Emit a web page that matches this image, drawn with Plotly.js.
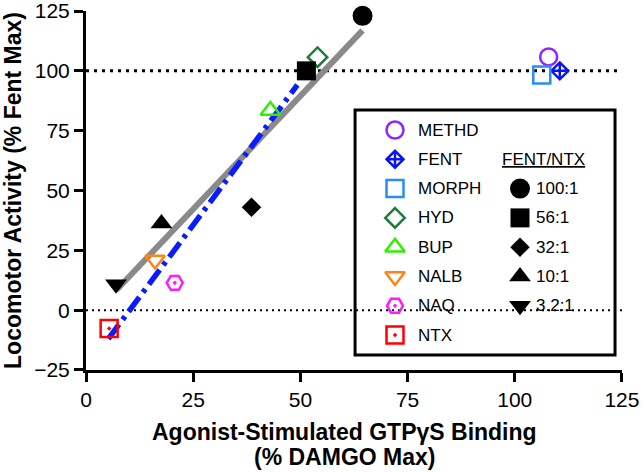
<!DOCTYPE html>
<html>
<head>
<meta charset="utf-8">
<script src="https://cdn.plot.ly/plotly-3.0.1.min.js"></script>
<style>
  html, body { margin: 0; padding: 0; background: #fff; }
  #chart { width: 644px; height: 473px; }
</style>
</head>
<body>
<div id="chart"></div>
<script>
// single drugs
const drugs = ["METHD", "FENT", "MORPH", "HYD", "BUP", "NALB", "NAQ", "NTX"];
const drugGtp = [107.9, 110.5, 106.3, 54.0, 43.0, 16.1, 20.7, 5.4];
const drugLoco = [105.8, 100.0, 98.3, 105.7, 83.4, 21.0, 11.4, -7.7];

// FENT/NTX mixtures
const ratios = ["100:1", "56:1", "32:1", "10:1", "3.2:1"];
const ratioGtp = [64.5, 51.4, 38.6, 17.6, 7.0];
const ratioLoco = [123.0, 100.0, 43.0, 36.2, 10.8];

// regression lines (end points)
const mixFitX = [7.1, 64.5];
const mixFitY = [8.4, 116.9];
const drugFitX = [5.2, 49.3];
const drugFitY = [-12.0, 94.1];

const refLines = [100, 0];
const xTicks = [0, 25, 50, 75, 100, 125];
const yTicks = [-25, 0, 25, 50, 75, 100, 125];
const xTitle = ["Agonist-Stimulated GTPγS Binding", "(% DAMGO Max)"];
const yTitle = "Locomotor Activity (% Fent Max)";

// styles
const drugStyle = {
  METHD: { symbol: "circle-open", color: "#8f26ff", size: 17 },
  FENT: { symbol: "diamond-cross-open", color: "#0a14f0", size: 13 },
  MORPH: { symbol: "square-open", color: "#2a8df0", size: 17 },
  HYD: { symbol: "diamond-open", color: "#1f7a3c", size: 15 },
  BUP: { symbol: "triangle-up-open", color: "#2df000", size: 17 },
  NALB: { symbol: "triangle-down-open", color: "#ff8419", size: 17 },
  NAQ: { symbol: "hexagon2-open-dot", color: "#ff1aff", size: 16 },
  NTX: { symbol: "square-open-dot", color: "#ff0000", size: 17 },
};
const ratioSymbols = ["circle", "square", "diamond", "triangle-up", "triangle-down"];
const ratioSizes = [20, 19, 15, 19, 19];

const FONT = "Liberation Sans, Arial, sans-serif";

const traces = [];

traces.push({
  x: mixFitX, y: mixFitY, type: "scatter", mode: "lines",
  line: { color: "#8a8a8a", width: 6 }, hoverinfo: "skip",
});
traces.push({
  x: drugFitX, y: drugFitY, type: "scatter", mode: "lines",
  line: { color: "#0a1cff", width: 5.5, dash: "18px,6px,4px,6px" }, hoverinfo: "skip",
});

drugs.forEach((d, i) => {
  const s = drugStyle[d];
  traces.push({
    x: [drugGtp[i]], y: [drugLoco[i]], type: "scatter", mode: "markers", name: d, cliponaxis: false,
    marker: { symbol: s.symbol, size: s.size, color: s.color, line: { color: s.color, width: 2.5 } },
  });
});

ratios.forEach((r, i) => {
  traces.push({
    x: [ratioGtp[i]], y: [ratioLoco[i]], type: "scatter", mode: "markers", name: r, cliponaxis: false,
    marker: { symbol: ratioSymbols[i], size: ratioSizes[i], color: "#000" },
  });
});

// hand-drawn legend on an overlay axis in paper units
const box = { x0: 0.502, x1: 0.987, y0: 0.042, y1: 0.724 };
const rowTop = 0.6685, rowStep = 0.0816;
const col1Sym = 0.5765, col1Txt = 0.615;
const col2Sym = 0.8097, col2Txt = 0.836, col2Head = 0.772;

const annotations = [];

drugs.forEach((d, i) => {
  const s = drugStyle[d];
  const y = rowTop - i * rowStep;
  traces.push({
    x: [col1Sym], y: [y], xaxis: "x2", yaxis: "y2", type: "scatter", mode: "markers",
    marker: { symbol: s.symbol, size: s.size, color: s.color, line: { color: s.color, width: 2.5 } },
    hoverinfo: "skip",
  });
  annotations.push({
    xref: "paper", yref: "paper", x: col1Txt, y: y, xanchor: "left", yanchor: "middle",
    text: d, showarrow: false, font: { family: FONT, size: 17, color: "#000" },
  });
});

annotations.push({
  xref: "paper", yref: "paper", x: col2Head, y: rowTop - rowStep, xanchor: "left", yanchor: "middle",
  text: "<u>FENT/NTX</u>", showarrow: false, font: { family: FONT, size: 17, color: "#000" },
});

ratios.forEach((r, i) => {
  const y = rowTop - (i + 2) * rowStep;
  traces.push({
    x: [col2Sym], y: [y], xaxis: "x2", yaxis: "y2", type: "scatter", mode: "markers",
    marker: { symbol: ratioSymbols[i], size: ratioSizes[i], color: "#000" },
    hoverinfo: "skip",
  });
  annotations.push({
    xref: "paper", yref: "paper", x: col2Txt, y: y, xanchor: "left", yanchor: "middle",
    text: r, showarrow: false, font: { family: FONT, size: 17, color: "#000" },
  });
});

// x-axis title, two lines placed under the tick labels
xTitle.forEach((t, i) => {
  annotations.push({
    xref: "paper", yref: "paper", x: 0.483, y: -0.1727 - i * 0.0705,
    xanchor: "center", yanchor: "middle", showarrow: false,
    text: "<b>" + t + "</b>", font: { family: FONT, size: 23, color: "#000" },
  });
});

const shapes = refLines.map((v, i) => ({
  type: "line", xref: "x", yref: "y", x0: 0, x1: 125, y0: v, y1: v, layer: "below",
  line: { color: "#000", width: i === 0 ? 3 : 2, dash: i === 0 ? "3px,5px" : "2px,4px" },
}));
shapes.push({
  type: "rect", xref: "paper", yref: "paper", x0: box.x0, x1: box.x1, y0: box.y0, y1: box.y1,
  layer: "below", fillcolor: "#fff", line: { color: "#000", width: 3 },
});

const axisCommon = {
  showline: true, linewidth: 3, linecolor: "#000", mirror: false,
  ticks: "outside", ticklen: 9, tickwidth: 3, tickcolor: "#000",
  showgrid: false, zeroline: false, ticklabeloverflow: "allow",
  tickfont: { family: FONT, size: 21, color: "#000" },
};

Plotly.newPlot("chart", traces, {
  width: 644, height: 473,
  margin: { l: 86, r: 22, t: 11, b: 103 },
  paper_bgcolor: "#fff", plot_bgcolor: "#fff",
  showlegend: false,
  font: { family: FONT, color: "#000" },
  xaxis: { ...axisCommon, range: [0, 125.01], tickvals: xTicks },
  yaxis: {
    ...axisCommon, range: [-25.01, 125.01], tickvals: yTicks,
    title: {
      text: "<b>" + yTitle + "</b>",
      font: { family: FONT, size: 23, color: "#000" }, standoff: 7,
    },
  },
  xaxis2: { overlaying: "x", range: [0, 1], visible: false, anchor: "y2", fixedrange: true },
  yaxis2: { overlaying: "y", range: [0, 1], visible: false, anchor: "x2", fixedrange: true },
  shapes: shapes,
  annotations: annotations,
}, { displayModeBar: false, staticPlot: true });
</script>
</body>
</html>
